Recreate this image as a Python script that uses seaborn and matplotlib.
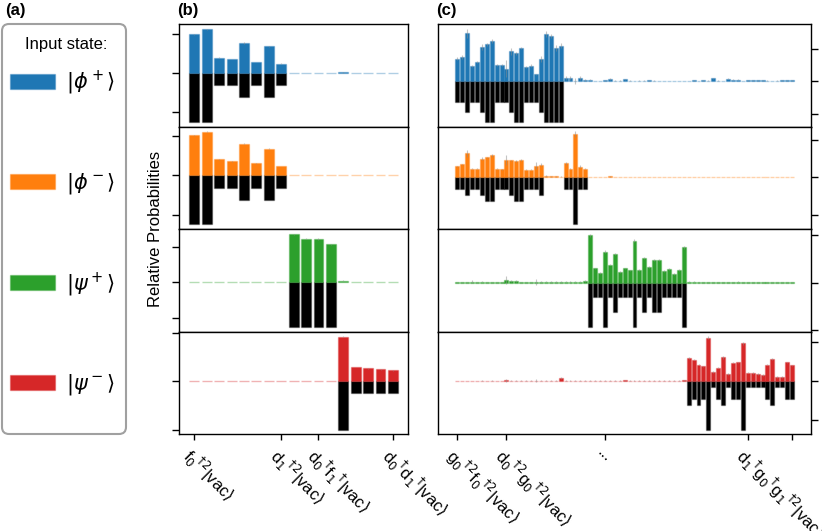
import numpy as np
import seaborn as sns
import matplotlib.pyplot as plt
from matplotlib.patches import Patch, FancyBboxPatch
from matplotlib.colors import to_rgba

plt.rcParams['font.family'] = ['Liberation Sans', 'DejaVu Sans']
plt.rcParams['axes.linewidth'] = 1.0

# ---------------- data ----------------
state_labels = [r'$|\phi^+\rangle$', r'$|\phi^-\rangle$', r'$|\psi^+\rangle$', r'$|\psi^-\rangle$']
state_colors = ['#1f77b4', '#ff7f0e', '#2ca02c', '#d62728']

# panel (b): 17 outcomes
b_phi_p = [0.197, 0.223, 0.077, 0.071, 0.153, 0.056, 0.136, 0.048, 0.0008, 0.0008,
           0.001, 0.0008, 0.003, 0.0008, 0.0008, 0.0008, 0.0008]
b_phi_m = [0.203, 0.220, 0.080, 0.071, 0.160, 0.060, 0.134, 0.047, 0.001, 0.001,
           0.001, 0.001, 0.001, 0.001, 0.0008, 0.0008, 0.0008]
b_psi_p = [0.002, 0.003, 0.0008, 0.0008, 0.001, 0.001, 0.0008, 0.0008, 0.268, 0.244,
           0.242, 0.213, 0.010, 0.001, 0.001, 0.001, 0.001]
b_psi_m = [0.0008, 0.0008, 0.0008, 0.0008, 0.0008, 0.0008, 0.0008, 0.0008, 0.002, 0.003,
           0.002, 0.001, 0.460, 0.147, 0.134, 0.124, 0.113]

b_phi_p_err = [0.003, 0.003, 0.002, 0.002, 0.003, 0.002, 0.003, 0.002, 0.0005, 0.0005,
               0.0005, 0.0005, 0.001, 0.0005, 0.0005, 0.0005, 0.0005]
b_phi_m_err = [0.003, 0.003, 0.002, 0.002, 0.003, 0.002, 0.003, 0.002, 0.0005, 0.0005,
               0.0005, 0.0005, 0.0005, 0.0005, 0.0005, 0.0005, 0.0005]
b_psi_p_err = [0.001, 0.001, 0.0005, 0.0005, 0.0005, 0.0005, 0.0005, 0.0005, 0.003, 0.003,
               0.003, 0.003, 0.001, 0.0005, 0.0005, 0.0005, 0.0005]
b_psi_m_err = [0.0005, 0.0005, 0.0005, 0.0005, 0.0005, 0.0005, 0.0005, 0.0005, 0.001, 0.001,
               0.001, 0.0005, 0.004, 0.003, 0.003, 0.003, 0.003]

b_phi_p_ideal = [0.25, 0.25, 0.0625, 0.0625, 0.125, 0.0625, 0.125, 0.0625, 0, 0,
                 0, 0, 0, 0, 0, 0, 0]
b_phi_m_ideal = [0.25, 0.25, 0.0625, 0.0625, 0.125, 0.0625, 0.125, 0.0625, 0, 0,
                 0, 0, 0, 0, 0, 0, 0]
b_psi_p_ideal = [0, 0, 0, 0, 0, 0, 0, 0, 0.25, 0.25,
                 0.25, 0.25, 0, 0, 0, 0, 0]
b_psi_m_ideal = [0, 0, 0, 0, 0, 0, 0, 0, 0, 0,
                 0, 0, 0.5, 0.125, 0.125, 0.125, 0.125]

b_tick_idx = [0, 7, 10, 16]
b_tick_labels = [r'f$_0$$^{\dagger2}$|vac$\rangle$',
                 r'd$_1$$^{\dagger2}$|vac$\rangle$',
                 r'd$_0$$^{\dagger}$f$_1$$^{\dagger}$|vac$\rangle$',
                 r'd$_0$$^{\dagger}$d$_1$$^{\dagger}$|vac$\rangle$']
b_step = [0.2, 0.2, 0.2, 0.5]

# panel (c): 69 outcomes
c_phi_p = [0.035, 0.0376, 0.0742, 0.0237, 0.0294, 0.053, 0.0572, 0.0629, 0.0253, 0.0247,
           0.0196, 0.0464, 0.0433, 0.0515, 0.0227, 0.0242, 0.0108, 0.034, 0.0732, 0.0706,
           0.0515, 0.0552, 0.0046, 0.005, 0.001, 0.005, 0.0026, 0.0026, 0.0005, 0.0005,
           0.002, 0.0036, 0.001, 0.001, 0.003, 0.001, 0.0005, 0.001, 0.001, 0.002,
           0.001, 0.0005, 0.0005, 0.0008, 0.0005, 0.0005, 0.0005, 0.0005, 0.002, 0.0005,
           0.002, 0.001, 0.0046, 0.001, 0.0005, 0.004, 0.0026, 0.0026, 0.0005, 0.002,
           0.002, 0.002, 0.0015, 0.001, 0.0005, 0.001, 0.002, 0.002, 0.0015]
c_phi_m = [0.0295, 0.0347, 0.0642, 0.0226, 0.0234, 0.0495, 0.053, 0.059, 0.0226, 0.0217,
           0.046, 0.0451, 0.0434, 0.046, 0.02, 0.0208, 0.0312, 0.0339, 0.0043, 0.0026,
           0.0026, 0.0017, 0.0373, 0.0234, 0.1155, 0.0286, 0.0234, 0.0008, 0.001, 0.0008,
           0.001, 0.0025, 0.001, 0.0008, 0.001, 0.0008, 0.0008, 0.001, 0.0008, 0.0012,
           0.0008, 0.0008, 0.0008, 0.0008, 0.001, 0.0008, 0.0008, 0.001, 0.0012, 0.0008,
           0.0008, 0.001, 0.0008, 0.0008, 0.0008, 0.0012, 0.0012, 0.001, 0.0008, 0.001,
           0.0012, 0.001, 0.0008, 0.0008, 0.0008, 0.0008, 0.001, 0.0008, 0.0008]
c_psi_p = [0.0008, 0.0008, 0.001, 0.002, 0.0008, 0.002, 0.001, 0.001, 0.0008, 0.001,
           0.006, 0.0035, 0.0035, 0.001, 0.001, 0.001, 0.0015, 0.0015, 0.0015, 0.001,
           0.002, 0.002, 0.002, 0.0015, 0.0015, 0.0015, 0.004, 0.1, 0.0299, 0.0201,
           0.0653, 0.0382, 0.0597, 0.0229, 0.0299, 0.0257, 0.0882, 0.0264, 0.0514, 0.0333,
           0.0479, 0.0479, 0.025, 0.0292, 0.0188, 0.0264, 0.0743, 0.0015, 0.0015, 0.001,
           0.0012, 0.001, 0.001, 0.0012, 0.0008, 0.0012, 0.0008, 0.0015, 0.001, 0.001,
           0.0012, 0.001, 0.0008, 0.001, 0.001, 0.0008, 0.001, 0.0008, 0.0008]
c_psi_m = [0.0005, 0.0005, 0.0008, 0.0008, 0.0008, 0.001, 0.0008, 0.001, 0.0008, 0.0008,
           0.002, 0.0015, 0.001, 0.001, 0.001, 0.0012, 0.0015, 0.0015, 0.0015, 0.0015,
           0.001, 0.0077, 0.001, 0.0015, 0.0015, 0.0015, 0.0015, 0.0015, 0.0012, 0.0015,
           0.0015, 0.0015, 0.0012, 0.0015, 0.002, 0.0015, 0.0015, 0.0012, 0.0012, 0.0015,
           0.0015, 0.0012, 0.0015, 0.0015, 0.0015, 0.0015, 0.002, 0.06, 0.0557, 0.0428,
           0.0385, 0.1122, 0.0231, 0.0351, 0.0616, 0.018, 0.0479, 0.0488, 0.0976, 0.0223,
           0.0205, 0.0188, 0.0154, 0.0428, 0.0574, 0.0111, 0.0111, 0.0488, 0.0411]

c_phi_p_err = [0.002, 0.0026, 0.0072, 0.0015, 0.0015, 0.004, 0.002, 0.003, 0.0015, 0.0015,
               0.0134, 0.005, 0.0026, 0.002, 0.0015, 0.002, 0.001, 0.0046, 0.005, 0.003,
               0.004, 0.0036, 0.003, 0.003, 0.005, 0.003, 0.0015, 0.001, 0.0005, 0.0005,
               0.0008, 0.001, 0.0005, 0.0005, 0.0008, 0.0005, 0.0005, 0.0005, 0.0005, 0.0008,
               0.0005, 0.0005, 0.0005, 0.0005, 0.0005, 0.0005, 0.0005, 0.0005, 0.0008, 0.0005,
               0.0008, 0.0005, 0.001, 0.0005, 0.0005, 0.001, 0.0008, 0.0008, 0.0005, 0.0008,
               0.0008, 0.0008, 0.0005, 0.0005, 0.0005, 0.0005, 0.0008, 0.0008, 0.0005]
c_phi_m_err = [0.002, 0.002, 0.009, 0.0015, 0.0015, 0.004, 0.002, 0.004, 0.0015, 0.0015,
               0.013, 0.002, 0.002, 0.002, 0.0015, 0.0015, 0.009, 0.003, 0.002, 0.001,
               0.001, 0.001, 0.0035, 0.002, 0.007, 0.003, 0.002, 0.0008, 0.0008, 0.0008,
               0.0008, 0.001, 0.0008, 0.0008, 0.0008, 0.0008, 0.0008, 0.0008, 0.0008, 0.0008,
               0.0008, 0.0008, 0.0008, 0.0008, 0.0008, 0.0008, 0.0008, 0.0008, 0.0008, 0.0008,
               0.0008, 0.0008, 0.0008, 0.0008, 0.0008, 0.0008, 0.0008, 0.0008, 0.0008, 0.0008,
               0.0008, 0.0008, 0.0008, 0.0008, 0.0008, 0.0008, 0.0008, 0.0008, 0.0008]
c_psi_p_err = [0.001, 0.001, 0.001, 0.003, 0.001, 0.001, 0.001, 0.001, 0.001, 0.001,
               0.009, 0.002, 0.002, 0.001, 0.001, 0.001, 0.007, 0.002, 0.001, 0.002,
               0.002, 0.002, 0.001, 0.002, 0.001, 0.001, 0.002, 0.003, 0.002, 0.002,
               0.003, 0.002, 0.002, 0.002, 0.002, 0.002, 0.003, 0.002, 0.002, 0.002,
               0.002, 0.002, 0.002, 0.002, 0.002, 0.002, 0.003, 0.001, 0.001, 0.001,
               0.001, 0.001, 0.001, 0.001, 0.001, 0.001, 0.001, 0.001, 0.001, 0.001,
               0.001, 0.001, 0.001, 0.001, 0.001, 0.001, 0.001, 0.001, 0.001]
c_psi_m_err = [0.001, 0.001, 0.001, 0.001, 0.001, 0.001, 0.001, 0.001, 0.001, 0.001,
               0.004, 0.001, 0.001, 0.001, 0.001, 0.001, 0.003, 0.001, 0.001, 0.001,
               0.001, 0.002, 0.001, 0.001, 0.001, 0.001, 0.001, 0.001, 0.001, 0.001,
               0.001, 0.001, 0.001, 0.001, 0.001, 0.001, 0.001, 0.001, 0.001, 0.001,
               0.001, 0.001, 0.001, 0.001, 0.001, 0.001, 0.001, 0.002, 0.002, 0.002,
               0.002, 0.0035, 0.002, 0.002, 0.0035, 0.002, 0.002, 0.002, 0.0035, 0.002,
               0.002, 0.002, 0.002, 0.002, 0.003, 0.002, 0.002, 0.002, 0.002]

c_phi_p_ideal = [0.03125, 0.03125, 0.046875, 0.03125, 0.03125, 0.046875, 0.0625, 0.0625, 0.03125, 0.03125,
                 0.03125, 0.046875, 0.0625, 0.0625, 0.03125, 0.03125, 0.03125, 0.046875, 0.0625, 0.0625,
                 0.0625, 0.0625, 0, 0, 0, 0, 0, 0, 0, 0,
                 0, 0, 0, 0, 0, 0, 0, 0, 0, 0,
                 0, 0, 0, 0, 0, 0, 0, 0, 0, 0,
                 0, 0, 0, 0, 0, 0, 0, 0, 0, 0,
                 0, 0, 0, 0, 0, 0, 0, 0, 0]
c_phi_m_ideal = [0.03125, 0.03125, 0.046875, 0.03125, 0.03125, 0.046875, 0.0625, 0.0625, 0.03125, 0.03125,
                 0.03125, 0.046875, 0.0625, 0.0625, 0.03125, 0.03125, 0.03125, 0.046875, 0, 0,
                 0, 0, 0.03125, 0.03125, 0.125, 0.03125, 0.03125, 0, 0, 0,
                 0, 0, 0, 0, 0, 0, 0, 0, 0, 0,
                 0, 0, 0, 0, 0, 0, 0, 0, 0, 0,
                 0, 0, 0, 0, 0, 0, 0, 0, 0, 0,
                 0, 0, 0, 0, 0, 0, 0, 0, 0]
c_psi_p_ideal = [0, 0, 0, 0, 0, 0, 0, 0, 0, 0,
                 0, 0, 0, 0, 0, 0, 0, 0, 0, 0,
                 0, 0, 0, 0, 0, 0, 0, 0.09375, 0.03125, 0.03125,
                 0.09375, 0.03125, 0.0625, 0.03125, 0.03125, 0.03125, 0.09375, 0.03125, 0.0625, 0.03125,
                 0.0625, 0.0625, 0.03125, 0.03125, 0.03125, 0.03125, 0.09375, 0, 0, 0,
                 0, 0, 0, 0, 0, 0, 0, 0, 0, 0,
                 0, 0, 0, 0, 0, 0, 0, 0, 0]
c_psi_m_ideal = [0, 0, 0, 0, 0, 0, 0, 0, 0, 0,
                 0, 0, 0, 0, 0, 0, 0, 0, 0, 0,
                 0, 0, 0, 0, 0, 0, 0, 0, 0, 0,
                 0, 0, 0, 0, 0, 0, 0, 0, 0, 0,
                 0, 0, 0, 0, 0, 0, 0, 0.0625, 0.046875, 0.0625,
                 0.046875, 0.125, 0.015625, 0.046875, 0.0625, 0.015625, 0.046875, 0.046875, 0.125, 0.015625,
                 0.015625, 0.015625, 0.015625, 0.046875, 0.0625, 0.015625, 0.015625, 0.046875, 0.046875]

c_tick_idx = [0, 10, 30, 59, 68]
c_tick_labels = [r'g$_0$$^{\dagger2}$f$_0$$^{\dagger2}$|vac$\rangle$',
                 r'd$_0$$^{\dagger2}$g$_0$$^{\dagger2}$|vac$\rangle$',
                 '...',
                 r'd$_1$$^{\dagger}$g$_0$$^{\dagger}$g$_1$$^{\dagger2}$|vac$\rangle$',
                 '']
c_step = [0.05, 0.1, 0.1, 0.1]


def draw_row(ax, meas, err, ideal, color, step):
    n = len(meas)
    idx = list(range(n))
    neg = [-v if v > 0 else np.nan for v in ideal]
    # ideal (black, pointing down), then measured (coloured, pointing up)
    sns.barplot(x=idx, y=neg, order=idx, color='black', saturation=1, width=0.8,
                edgecolor=(0, 0, 0, 0.3), linewidth=1, errorbar=None, ax=ax)
    sns.barplot(x=idx, y=meas, order=idx, color=color, saturation=1, width=0.8,
                edgecolor=to_rgba(color, 0.35), linewidth=1, errorbar=None, ax=ax)
    ax.errorbar(idx, meas, yerr=err, fmt='none', ecolor=(0.55, 0.55, 0.55, 0.5),
                elinewidth=0.8)
    pad = 0.05 * (n - 0.2)
    ax.set_xlim(-0.4 - pad, n - 0.6 + pad)
    ax.set_yticks([-step, 0, step])
    ax.set_yticklabels([])
    ax.set_xticks([])
    ax.set_xlabel('')
    ax.set_ylabel('')
    ax.tick_params(axis='y', direction='out', length=5, width=1)


fig = plt.figure(figsize=(8.22, 5.31), dpi=100)
W, H = 822, 531
gs_b = fig.add_gridspec(4, 1, left=179 / W, right=408.3 / W, top=1 - 24 / H,
                        bottom=1 - 434.3 / H, hspace=0)
gs_c = fig.add_gridspec(4, 1, left=438.3 / W, right=811 / W, top=1 - 24 / H,
                        bottom=1 - 434.3 / H, hspace=0)

rows_b = [(b_phi_p, b_phi_p_err, b_phi_p_ideal), (b_phi_m, b_phi_m_err, b_phi_m_ideal),
          (b_psi_p, b_psi_p_err, b_psi_p_ideal), (b_psi_m, b_psi_m_err, b_psi_m_ideal)]
rows_c = [(c_phi_p, c_phi_p_err, c_phi_p_ideal), (c_phi_m, c_phi_m_err, c_phi_m_ideal),
          (c_psi_p, c_psi_p_err, c_psi_p_ideal), (c_psi_m, c_psi_m_err, c_psi_m_ideal)]

for i in range(4):
    ax = fig.add_subplot(gs_b[i])
    meas, err, ideal = rows_b[i]
    draw_row(ax, meas, err, ideal, state_colors[i], b_step[i])
    if i == 3:
        ax.set_xticks(b_tick_idx)
        ax.set_xticklabels(b_tick_labels, rotation=-45, ha='left', va='top',
                           rotation_mode='anchor', fontsize=12)
        ax.tick_params(axis='x', length=4, width=1)

    ax = fig.add_subplot(gs_c[i])
    meas, err, ideal = rows_c[i]
    draw_row(ax, meas, err, ideal, state_colors[i], c_step[i])
    ax.yaxis.tick_right()
    if i == 3:
        ax.set_xticks(c_tick_idx)
        ax.set_xticklabels(c_tick_labels, rotation=-45, ha='left', va='top',
                           rotation_mode='anchor', fontsize=12)
        ax.tick_params(axis='x', length=4, width=1)

# panel (a): legend box
box = FancyBboxPatch((2 / 100, (H - 434) / 100), 124 / 100, 410 / 100,
                     boxstyle='round,pad=0,rounding_size=0.07',
                     transform=fig.dpi_scale_trans, facecolor='none',
                     edgecolor='#a0a0a0', linewidth=1.5)
fig.add_artist(box)
fig.text(66 / W, 1 - 44 / H, 'Input state:', ha='center', va='center', fontsize=12)
handles = [Patch(facecolor=c, edgecolor=to_rgba(c, 0.35), linewidth=1, label=l)
           for c, l in zip(state_colors, state_labels)]
fig.legend(handles=handles, loc='upper left', bbox_to_anchor=(10 / W, 1 - 69 / H),
           frameon=False, fontsize=15, handlelength=2.16, handleheight=0.72,
           handletextpad=0.55, labelspacing=3.55, borderpad=0, borderaxespad=0)

fig.text(156 / W, 1 - 229 / H, 'Relative Probabilities', rotation=90,
         ha='center', va='center', fontsize=12)
fig.text(5 / W, 1 - 11 / H, '(a)', fontsize=12, fontweight='bold', va='center')
fig.text(177 / W, 1 - 11 / H, '(b)', fontsize=12, fontweight='bold', va='center')
fig.text(436 / W, 1 - 11 / H, '(c)', fontsize=12, fontweight='bold', va='center')

fig.savefig('out.png', dpi=100)
